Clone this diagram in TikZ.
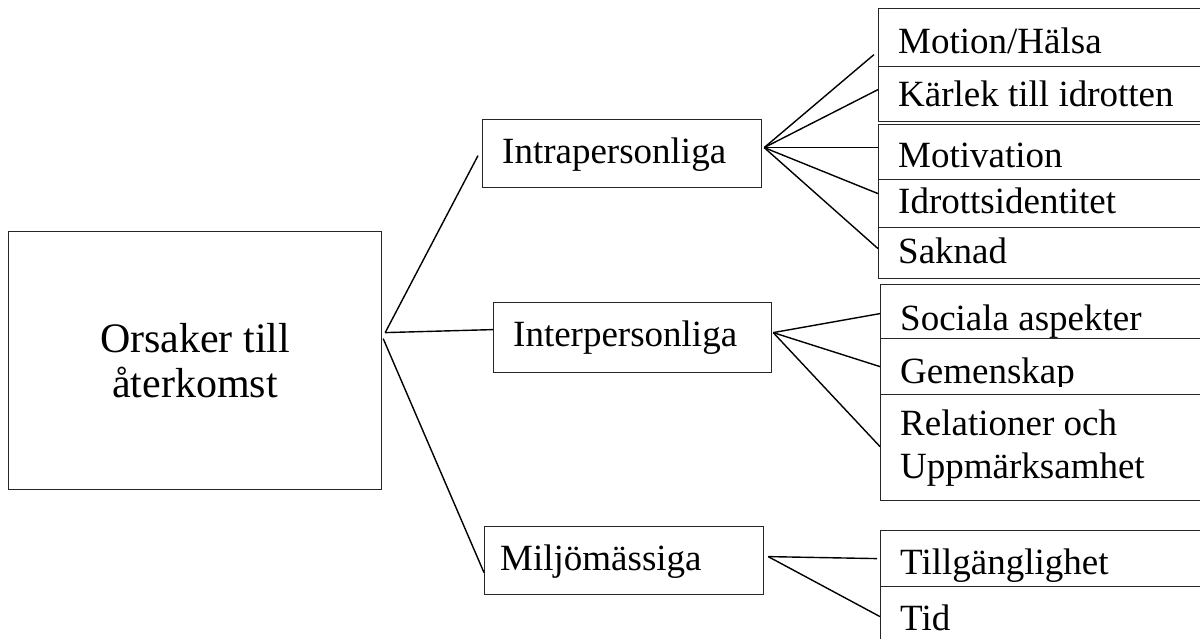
\documentclass[tikz,border=0pt]{standalone}
\usepackage{fontspec}
\setmainfont{Liberation Serif}
\begin{document}
\begin{tikzpicture}[x=1pt,y=-1pt,
  box/.style={draw=black!85, line width=1.2pt, inner sep=0pt, anchor=north west},
  rbox/.style={box, minimum width=340pt},
  lbl/.style={anchor=base west, inner sep=0pt, font=\fontsize{37}{44}\selectfont},
  conn/.style={draw=black, line width=1.4pt}]
\useasboundingbox (0,0) rectangle (1200,638);

% main box
\node[box, minimum width=373pt, minimum height=258pt, align=center,
      font=\fontsize{42}{45}\selectfont] (main) at (8,231) {Orsaker till\\återkomst};

% level 2
\node[box, minimum width=279pt, minimum height=68pt] (intra) at (482,119) {};
\node[lbl] (tintra) at (502,163) {Intrapersonliga};
\node[box, minimum width=278pt, minimum height=70pt] (inter) at (493,302) {};
\node[lbl] (tinter) at (513,346) {Interpersonliga};
\node[box, minimum width=279pt, minimum height=68pt] (miljo) at (484,526) {};
\node[lbl] (tmiljo) at (500,570) {Miljömässiga};

% level 3 - intrapersonliga
\node[rbox, minimum height=58pt] (mot) at (878,8) {};
\node[lbl] (tmot) at (898,53) {Motion/Hälsa};
\node[rbox, minimum height=55pt] (kar) at (878,66) {};
\node[lbl] (tkar) at (898,106) {Kärlek till idrotten};
\node[rbox, minimum height=55pt] (motiv) at (878,124) {};
\node[lbl] (tmotiv) at (898,167) {Motivation};
\node[rbox, minimum height=48pt] (idr) at (878,179) {};
\node[lbl] (tidr) at (898,213) {Idrottsidentitet};
\node[rbox, minimum height=51pt] (sak) at (878,227) {};
\node[lbl] (tsak) at (898,263) {Saknad};

% level 3 - interpersonliga
\node[rbox, minimum height=54pt] (soc) at (880,284) {};
\node[lbl] (tsoc) at (900,330) {Sociala aspekter};
\node[rbox, minimum height=56pt] (gem) at (880,338) {};
\begin{scope}
  \clip (880,338) rectangle (1200,386);
  \node[lbl] (tgem) at (900,383) {Gemenskap};
\end{scope}
\node[rbox, minimum height=106pt] (rel) at (880,394) {};
\node[lbl] (trel1) at (900,435) {Relationer och};
\node[lbl] (trel2) at (900,478) {Uppmärksamhet};

% level 3 - miljömässiga
\node[rbox, minimum height=56pt] (till) at (880,530) {};
\node[lbl] (ttill) at (900,574) {Tillgänglighet};
\node[rbox, minimum height=80pt] (tid) at (880,586) {};
\node[lbl] (ttid) at (900,630) {Tid};

% hubs
\coordinate (hmain) at ([xshift=3pt,yshift=28pt]main.east);
\coordinate (hmain2) at ([xshift=1pt,yshift=22pt]main.east);
\coordinate (hintra) at ([xshift=2pt,yshift=6pt]intra.east);
\coordinate (hinter) at ([xshift=1pt,yshift=5pt]inter.east);
\coordinate (hmiljo) at ([xshift=4pt,yshift=4pt]miljo.east);

% connectors level 1
\draw[conn] (hmain) -- ([xshift=-4pt,yshift=-2pt]intra.west);
\draw[conn] (hmain) -- ([yshift=8pt]inter.west);
\draw[conn] (hmain2) -- ([yshift=-12pt]miljo.west);

% connectors intra
\draw[conn] (hintra) -- ([xshift=-4pt,yshift=-17pt]mot.west);
\draw[conn] (hintra) -- ([yshift=4.5pt]kar.west);
\draw[conn] (hintra) -- ([yshift=4.5pt]motiv.west);
\draw[conn] (hintra) -- ([yshift=10pt]idr.west);
\draw[conn] (hintra) -- ([yshift=4.5pt]sak.west);

% connectors inter
\draw[conn] (hinter) -- ([yshift=-2pt]soc.west);
\draw[conn] (hinter) -- (gem.west);
\draw[conn] (hinter) -- ([yshift=1pt]rel.west);

% connectors miljo
\draw[conn] (hmiljo) -- ([xshift=-3pt]till.west);
\draw[conn] (hmiljo) -- ([yshift=10pt]tid.west);
\end{tikzpicture}
\end{document}
